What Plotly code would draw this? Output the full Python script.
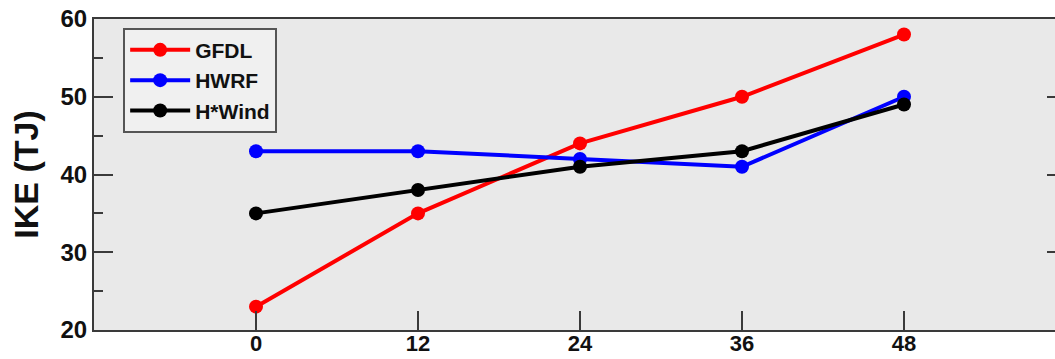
import plotly.graph_objects as go

# Forecast lead time (h) and integrated kinetic energy (TJ)
lead_hours = [0, 12, 24, 36, 48]
gfdl_ike = [23, 35, 44, 50, 58]
hwrf_ike = [43, 43, 42, 41, 50]
hwind_ike = [35, 38, 41, 43, 49]

x_tick_vals = [0, 12, 24, 36, 48]
y_major = [20, 30, 40, 50, 60]
y_minor = [25, 35, 45, 55]

FONT = "Liberation Sans, Arial, Helvetica, sans-serif"
AXIS_COLOR = "#3a3a3a"

series = [
    ("GFDL", gfdl_ike, "#ff0000"),
    ("HWRF", hwrf_ike, "#0000ff"),
    ("H*Wind", hwind_ike, "#000000"),
]

fig = go.Figure()
for name, vals, color in series:
    fig.add_trace(go.Scatter(
        x=lead_hours, y=vals, name=name, mode="lines+markers",
        line=dict(color=color, width=4),
        marker=dict(color=color, size=14),
    ))

# invisible trace on a second y axis that carries the left-side minor ticks
fig.add_trace(go.Scatter(x=[None], y=[None], yaxis="y2", showlegend=False, hoverinfo="skip"))

W, H = 1068, 359
fig.update_layout(
    width=W, height=H,
    margin=dict(l=94, r=W - 1066, t=19, b=29, autoexpand=False),
    paper_bgcolor="white",
    plot_bgcolor="#e9e9e9",
    font=dict(family=FONT, color="#111111"),
    xaxis=dict(
        range=[-12, 60], tickvals=x_tick_vals, automargin=False,
        ticks="inside", ticklen=19, tickwidth=2, tickcolor=AXIS_COLOR,
        showline=True, linecolor=AXIS_COLOR, linewidth=2, mirror=True,
        showgrid=False, zeroline=False, ticklabelstandoff=-7,
        tickfont=dict(size=22, family=FONT, weight="bold", color="#111111"),
    ),
    yaxis=dict(
        range=[20, 60], tickvals=y_major, automargin=False,
        ticks="inside", ticklen=19, tickwidth=2, tickcolor=AXIS_COLOR,
        showline=True, linecolor=AXIS_COLOR, linewidth=2, mirror="ticks",
        showgrid=False, zeroline=False,
        tickfont=dict(size=24, family=FONT, weight="bold", color="#111111"),
        title=dict(text="IKE (TJ)", font=dict(size=34, family=FONT, weight="bold", color="#111111"),
                   standoff=12),
    ),
    yaxis2=dict(
        range=[20, 60], overlaying="y", side="left", automargin=False,
        tickvals=y_minor, showticklabels=False,
        ticks="inside", ticklen=9, tickwidth=2, tickcolor=AXIS_COLOR,
        showgrid=False, zeroline=False, showline=False,
    ),
    legend=dict(
        x=0.03, y=0.972, xanchor="left", yanchor="top",
        bgcolor="#f0f0f0", bordercolor="#555555", borderwidth=2,
        font=dict(size=21, family=FONT, weight="bold", color="#111111"),
        tracegroupgap=0, itemwidth=60,
    ),
    showlegend=True,
)

fig.write_html(
    "out.html",
    post_script="document.documentElement.style.overflow='hidden';document.body.style.overflow='hidden';",
)
